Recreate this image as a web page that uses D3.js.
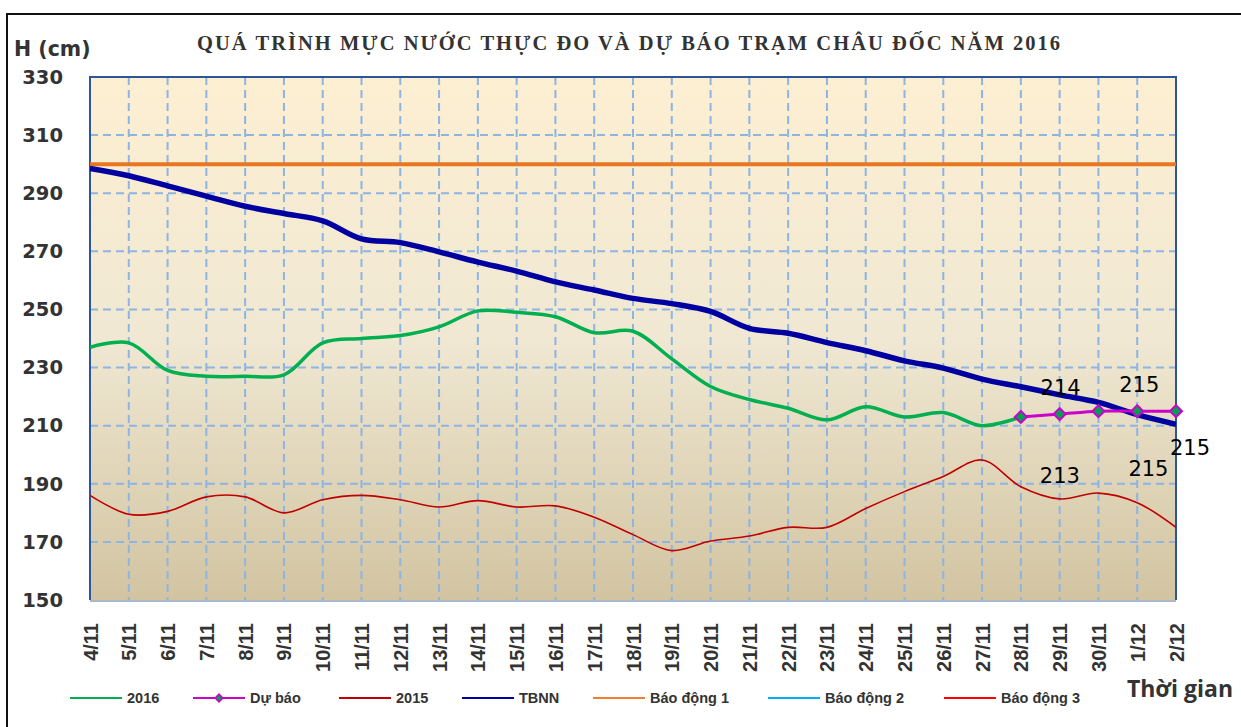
<!DOCTYPE html>
<meta charset="utf-8">
<head>
	<style>
		body { margin: 0; background: #fff; }
		text { font-family: Arial, "Liberation Sans", sans-serif; fill: #333; }
		.axis text { font-weight: bold; }
		.axis path, .axis line { display: none; }
		.grid line { stroke: #8DB4E2; stroke-width: 2; stroke-dasharray: 8,5; }
	</style>
	<script src="https://d3js.org/d3.v7.min.js"></script>
</head>
<body>
<script>

	var days = ["4/11","5/11","6/11","7/11","8/11","9/11","10/11","11/11","12/11","13/11",
		"14/11","15/11","16/11","17/11","18/11","19/11","20/11","21/11","22/11","23/11",
		"24/11","25/11","26/11","27/11","28/11","29/11","30/11","1/12","2/12"];

	// muc nuoc thuc do 2016 (den 28/11)
	var y2016 = [237,238.5,229,227,227,227.5,238.5,240,241,244,249.5,249,247.5,242,242.5,233,223.5,219,216,212,216.5,213,214.5,210,213];

	// du bao tu 28/11
	var forecastDays = ["28/11","29/11","30/11","1/12","2/12"];
	var forecast = [213,214,215,215,215];

	var y2015 = [186,179.5,180.5,185.5,185.5,180,184.5,186,184.5,182,184.2,182,182.4,178.5,172.5,167,170.3,172,175,175,181.5,187.3,192.5,198.2,189,184.8,186.8,183.5,175];

	var tbnn = [298.5,296,292.5,289,285.5,283,280.5,274.3,273,269.8,266.3,263.2,259.5,256.7,253.8,252,249.3,243.5,241.8,238.6,235.8,232.3,229.8,226,223.4,220.6,218,213.8,210.5];

	var bd1 = 300, bd2 = 350, bd3 = 400;

	var yTicks = [150,170,190,210,230,250,270,290,310,330];

	var legendItems = [
		{name: "2016", color: "#00B050", x: 70},
		{name: "Dự báo", color: "#CC00CC", x: 193, marker: true},
		{name: "2015", color: "#C00000", x: 339},
		{name: "TBNN", color: "#0000A0", x: 462},
		{name: "Báo động 1", color: "#F08030", x: 593},
		{name: "Báo động 2", color: "#00B0F0", x: 768},
		{name: "Báo động 3", color: "#FF0000", x: 944}
	];

	// vi tri nhan du bao (lech so voi diem)
	var labelOffsets = [[39,66],[1,-19],[50,65],[2,-19],[14,44]];

	var width = 1241, height = 727;
	var mLeft = 90, mRight = 1176, mTop = 77, mBottom = 600;

	var svg = d3.select("body").append("svg")
		.attr("width", width)
		.attr("height", height);

	var defs = svg.append("defs");
	var grad = defs.append("linearGradient").attr("id", "bg")
		.attr("x1", 0).attr("y1", 0).attr("x2", 0).attr("y2", 1);
	grad.append("stop").attr("offset", "0%").attr("stop-color", "#FDEFD2");
	grad.append("stop").attr("offset", "50%").attr("stop-color", "#F0E8D3");
	grad.append("stop").attr("offset", "100%").attr("stop-color", "#D2C4A1");

	defs.append("clipPath").attr("id", "plotClip")
	  .append("rect")
		.attr("x", mLeft).attr("y", mTop)
		.attr("width", mRight - mLeft).attr("height", mBottom - mTop);

	// khung ngoai
	svg.append("path")
		.attr("d", "M7," + (height + 5) + "V14H" + (width + 5))
		.attr("fill", "none")
		.attr("stroke", "#111")
		.attr("stroke-width", 2);

	var x = d3.scalePoint().domain(days).range([mLeft, mRight]);
	var y = d3.scaleLinear().domain([150, 330]).range([mBottom, mTop]);

	svg.append("rect")
		.attr("x", mLeft).attr("y", mTop)
		.attr("width", mRight - mLeft).attr("height", mBottom - mTop)
		.attr("fill", "url(#bg)");

	var grid = svg.append("g").attr("class", "grid");
	grid.selectAll(".h").data(yTicks.slice(1, -1))
	  .enter().append("line")
		.attr("x1", mLeft).attr("x2", mRight)
		.attr("y1", function(d) { return y(d) })
		.attr("y2", function(d) { return y(d) });
	grid.selectAll(".v").data(days.slice(1, -1))
	  .enter().append("line")
		.attr("y1", mTop).attr("y2", mBottom)
		.attr("x1", function(d) { return x(d) })
		.attr("x2", function(d) { return x(d) });

	// vien vung ve
	svg.append("line")
		.attr("x1", mLeft).attr("x2", mRight).attr("y1", mBottom + 1).attr("y2", mBottom + 1)
		.attr("stroke", "#A9B9CC").attr("stroke-width", 2);
	svg.append("path")
		.attr("d", "M" + mLeft + "," + mBottom + "V" + mTop + "H" + mRight + "V" + mBottom)
		.attr("fill", "none")
		.attr("stroke", "#2F5597")
		.attr("stroke-width", 2);

	var plot = svg.append("g").attr("clip-path", "url(#plotClip)");

	var line = d3.line()
		.x(function(d, i) { return x(days[i]) })
		.y(function(d) { return y(d) })
		.curve(d3.curveCatmullRom.alpha(0.5));

	// bao dong
	[[bd1, "#E87722", 4], [bd2, "#00B0F0", 2], [bd3, "#FF0000", 2]].forEach(function(b) {
		plot.append("line")
			.attr("x1", mLeft).attr("x2", mRight)
			.attr("y1", y(b[0])).attr("y2", y(b[0]))
			.attr("stroke", b[1]).attr("stroke-width", b[2]);
	});

	plot.append("path").datum(y2015)
		.attr("d", line)
		.attr("fill", "none").attr("stroke", "#C00000").attr("stroke-width", 1.6);

	plot.append("path").datum(tbnn)
		.attr("d", line)
		.attr("fill", "none").attr("stroke", "#0000A0").attr("stroke-width", 5.5);

	plot.append("path").datum(y2016)
		.attr("d", line)
		.attr("fill", "none").attr("stroke", "#00B050").attr("stroke-width", 3.5);

	var fLine = d3.line()
		.x(function(d, i) { return x(forecastDays[i]) })
		.y(function(d) { return y(d) })
		.curve(d3.curveCatmullRom.alpha(0.5));

	svg.append("path").datum(forecast)
		.attr("d", fLine)
		.attr("fill", "none").attr("stroke", "#CC00CC").attr("stroke-width", 3);

	var diamond = d3.symbol().type(d3.symbolSquare).size(72);
	svg.append("g").selectAll("path")
		.data(forecast)
	  .enter().append("path")
		.attr("d", diamond)
		.attr("transform", function(d, i) { return "translate(" + x(forecastDays[i]) + "," + y(d) + ")rotate(45)" })
		.attr("fill", "#00A050")
		.attr("stroke", "#CC00CC")
		.attr("stroke-width", 2);

	svg.append("g").selectAll("text")
		.data(forecast)
	  .enter().append("text")
		.attr("x", function(d, i) { return x(forecastDays[i]) + labelOffsets[i][0] })
		.attr("y", function(d, i) { return y(d) + labelOffsets[i][1] })
		.attr("text-anchor", "middle")
		.style("font-family", "'DejaVu Sans', sans-serif")
		.style("font-size", "21px")
		.style("fill", "#000")
		.text(function(d) { return d });

	// truc
	svg.append("g").attr("class", "axis")
		.attr("transform", "translate(" + (mLeft - 27) + ",0)")
		.call(d3.axisLeft(y).tickValues(yTicks).tickSize(0).tickPadding(0))
		.selectAll("text")
		.style("font-family", "'DejaVu Sans', sans-serif")
		.style("font-size", "19.5px");

	svg.append("g").attr("class", "axis")
		.attr("transform", "translate(0," + (mBottom + 23) + ")")
		.call(d3.axisBottom(x).tickSize(0).tickPadding(0))
		.selectAll("text")
		.style("font-size", "20px")
		.attr("text-anchor", "end")
		.attr("dy", null)
		.attr("dominant-baseline", "central")
		.attr("transform", "rotate(-90)");

	svg.append("text")
		.attr("x", 14).attr("y", 56)
		.style("font-family", "'DejaVu Sans', sans-serif")
		.style("font-size", "20.5px").style("font-weight", "bold")
		.text("H (cm)");

	svg.append("text")
		.attr("x", 197).attr("y", 50)
		.attr("textLength", 863)
		.attr("lengthAdjust", "spacing")
		.style("font-family", "'Liberation Serif', 'Times New Roman', serif")
		.style("font-size", "20.5px").style("font-weight", "bold")
		.text("QUÁ TRÌNH MỰC NƯỚC THỰC ĐO VÀ DỰ BÁO TRẠM CHÂU ĐỐC  NĂM 2016");

	svg.append("text")
		.attr("x", 1233).attr("y", 697)
		.attr("text-anchor", "end")
		.style("font-family", "'Open Sans', sans-serif")
		.style("font-size", "23px").style("font-weight", "bold")
		.text("Thời gian");

	// chu giai
	var legend = svg.append("g").selectAll("g")
		.data(legendItems)
	  .enter().append("g")
		.attr("transform", function(d) { return "translate(" + d.x + ",698)" });

	legend.append("line")
		.attr("x1", 0).attr("x2", 52)
		.attr("stroke", function(d) { return d.color })
		.attr("stroke-width", 2);

	legend.filter(function(d) { return d.marker })
	  .append("path")
		.attr("d", d3.symbol().type(d3.symbolSquare).size(30))
		.attr("transform", "translate(26,0)rotate(45)")
		.attr("fill", "#00A050")
		.attr("stroke", "#CC00CC")
		.attr("stroke-width", 1.5);

	legend.append("text")
		.attr("x", 57).attr("y", 5)
		.style("font-size", "14.5px").style("font-weight", "bold")
		.text(function(d) { return d.name });

</script>
</body>
